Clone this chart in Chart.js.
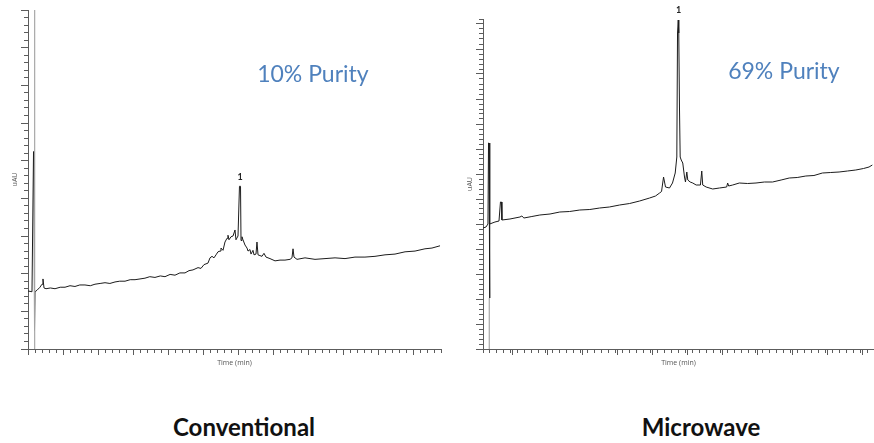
<!DOCTYPE html>
<html>
<head>
<meta charset="utf-8">
<script src="https://cdn.jsdelivr.net/npm/chart.js@4.4.1/dist/chart.umd.min.js"></script>
<style>
  html, body { margin: 0; padding: 0; background: #fff; }
  body { width: 874px; height: 443px; position: relative; overflow: hidden; font-family: Lato, "Open Sans", sans-serif; }
  canvas { position: absolute; top: 0; }
  #convChart { left: 0; }
  #microChart { left: 445px; }
  .caption { position: absolute; top: 413px; font-size: 24px; font-weight: bold; color: #111; transform: translateX(-50%); white-space: nowrap; line-height: 1.2; }
</style>
</head>
<body>
<canvas id="convChart" width="445" height="380"></canvas>
<canvas id="microChart" width="429" height="380"></canvas>
<div class="caption" style="left:244px">Conventional</div>
<div class="caption" style="left:701px">Microwave</div>
<script>
// Conventional synthesis trace (time in min, signal in uAU)
const convTime = [
  0, 0.57, 0.79, 0.86, 0.93, 1.0, 1.29, 1.71, 2.0, 2.14,
  2.29, 2.57, 3.2, 3.86, 4.6, 5.29, 6.0, 6.71, 7.4, 8.14,
  8.9, 9.57, 10.3, 11.0, 11.7, 12.43, 13.1, 13.86, 14.6, 15.29,
  16.0, 16.71, 17.4, 18.14, 18.9, 19.57, 20.3, 21.0, 21.7, 22.43,
  23.0, 23.57, 24.29, 24.71, 25.14, 25.71, 26.0, 26.29, 26.57, 26.86,
  27.14, 27.43, 27.57, 27.86, 28.14, 28.43, 28.57, 28.71, 29.0, 29.29,
  29.57, 29.71, 30.0, 30.21, 30.36, 30.43, 30.57, 30.71, 31.0, 31.29,
  31.43, 31.71, 31.86, 32.14, 32.29, 32.57, 32.71, 32.86, 33.14, 33.43,
  33.71, 34.0, 34.57, 35.29, 36.0, 36.71, 37.43, 37.71, 37.86, 38.0,
  38.43, 39.57, 41.0, 42.43, 43.86, 45.29, 46.71, 48.14, 49.57, 51.0,
  52.43, 53.86, 55.29, 56.71, 57.71, 58.86
];
const convSignal = [
  7.7, 7.6, 26.2, 26.2, 2.5, 7.6, 7.8, 8.2, 8.6, 9.3,
  8.1, 8.0, 8.1, 8.0, 8.2, 8.2, 8.4, 8.3, 8.5, 8.5,
  8.4, 8.6, 8.7, 8.8, 8.7, 8.9, 9.0, 9.0, 9.2, 9.2,
  9.3, 9.4, 9.6, 9.5, 9.7, 9.6, 9.9, 9.8, 10.1, 10.1,
  10.4, 10.5, 10.8, 10.7, 11.2, 11.4, 12.1, 12.3, 12.1, 12.5,
  12.9, 13.0, 13.4, 13.1, 14.2, 14.7, 15.1, 14.5, 14.9, 15.0,
  15.8, 14.5, 15.0, 21.6, 21.6, 14.4, 14.9, 14.5, 13.8, 13.4,
  13.0, 13.2, 12.6, 13.1, 12.5, 12.6, 14.2, 12.5, 12.4, 12.3,
  12.7, 12.2, 12.0, 11.7, 11.8, 11.8, 11.9, 12.1, 13.3, 12.2,
  11.9, 12.1, 11.9, 12.0, 12.1, 12.0, 12.2, 12.2, 12.3, 12.5,
  12.6, 12.9, 13.0, 13.3, 13.4, 13.7
];

// Microwave synthesis trace
const microTime = [
  0, 0.43, 0.71, 0.79, 0.86, 0.93, 1.0, 1.71, 2.29, 2.5,
  2.64, 2.71, 3.86, 5.29, 5.57, 5.86, 7.0, 8.14, 9.6, 11.0,
  12.4, 13.86, 15.3, 16.71, 18.1, 19.57, 21.0, 22.43, 23.86, 24.71,
  25.29, 25.57, 25.86, 26.14, 26.71, 27.14, 27.53, 27.76, 27.86, 27.96,
  28.04, 28.14, 28.24, 28.39, 28.61, 28.86, 29.0, 29.19, 29.33, 29.67,
  30.04, 30.53, 31.14, 31.33, 31.47, 31.96, 32.9, 33.86, 34.9, 35.04,
  35.19, 35.76, 36.71, 37.9, 39.1, 40.3, 41.47, 42.7, 43.86, 45.0,
  46.24, 47.4, 48.61, 49.8, 51.0, 52.2, 53.39, 54.5, 55.29, 55.76
];
const microSignal = [
  24.2, 24.4, 25.0, 41.2, 41.2, 10.2, 25.0, 25.4, 25.6, 29.4,
  29.4, 25.8, 26.0, 26.4, 26.6, 26.2, 26.5, 26.8, 27.0, 27.4,
  27.5, 27.8, 27.9, 28.2, 28.4, 28.8, 29.1, 29.6, 30.2, 30.6,
  31.2, 31.5, 34.4, 32.4, 32.2, 33.2, 35.2, 38.4, 63.2, 65.8,
  63.2, 48.4, 38.4, 37.8, 37.2, 34.4, 33.4, 35.4, 33.8, 33.4,
  33.2, 32.8, 32.8, 35.6, 32.8, 32.4, 32.0, 32.2, 32.4, 33.2,
  32.6, 32.8, 33.2, 33.1, 33.2, 33.4, 33.4, 33.8, 34.2, 34.3,
  34.6, 34.7, 35.2, 35.3, 35.4, 35.6, 35.8, 36.1, 36.4, 36.8
];

// injection line (time, top of the grey line)
const convFront = [0.95, 45];
const microFront = [0.9, 10.2];

const purityLabels = ["10% Purity", "69% Purity"];
const peakName = "1";

// draws the purity note and the peak number in data units
const textMarks = {
  id: "textMarks",
  afterDatasetsDraw(chart, args, opts) {
    const { ctx, scales: { x, y } } = chart;
    ctx.save();
    ctx.textAlign = "center";
    ctx.textBaseline = "alphabetic";
    ctx.fillStyle = "#4f81bd";
    ctx.font = "23px Lato";
    ctx.fillText(opts.purity, x.getPixelForValue(opts.purityAt[0]), y.getPixelForValue(opts.purityAt[1]));
    ctx.fillStyle = "#222";
    ctx.font = "bold 9px Lato";
    ctx.fillText(peakName, x.getPixelForValue(opts.peakAt[0]), y.getPixelForValue(opts.peakAt[1]));
    ctx.restore();
  }
};

function makeChart(id, o) {
  const ctx = document.getElementById(id).getContext("2d");
  const trace = o.time.map((t, i) => ({ x: t, y: o.signal[i] }));
  const front = [{ x: o.front[0], y: 0 }, { x: o.front[0], y: o.front[1] }];
  const axisColor = "#5c5c5c";

  return new Chart(ctx, {
    type: "line",
    data: {
      datasets: [
        { label: "front", data: front, borderColor: "#a8a8a8", borderWidth: 1.2, pointRadius: 0 },
        { label: "signal", data: trace, borderColor: "#1c1c1c", borderWidth: 1, pointRadius: 0, tension: 0 },
      ],
    },
    options: {
      responsive: false,
      animation: false,
      layout: { padding: o.padding },
      plugins: {
        legend: { display: false },
        tooltip: { enabled: false },
        textMarks: { purity: o.purity, purityAt: o.purityAt, peakAt: o.peakAt },
      },
      scales: {
        x: {
          type: "linear", min: 0, max: o.xMax, weight: 0,
          border: { color: axisColor, width: 1 },
          grid: { drawOnChartArea: false, tickLength: 4, tickColor: axisColor },
          ticks: { display: false, stepSize: 1 },
          title: { display: true, text: "Time (min)", color: "#555", font: { size: 7, family: "Open Sans" }, padding: { top: 0, bottom: 2 } },
          afterFit: s => { s.height = 20; },
        },
        xMajor: {
          type: "linear", position: "bottom", min: o.majorShift, max: o.xMax + o.majorShift, weight: -1,
          border: { display: false },
          grid: { drawOnChartArea: false, tickLength: 6, tickColor: axisColor },
          ticks: { display: false, stepSize: 5, includeBounds: false },
          afterFit: s => { s.height = 0; },
        },
        y: {
          type: "linear", min: 0, max: o.yMax, weight: 0,
          border: { color: axisColor, width: 1 },
          grid: { drawOnChartArea: false, tickLength: 4, tickColor: axisColor },
          ticks: { display: false, stepSize: 1 },
          title: { display: true, text: "uAU", color: "#555", font: { size: 7, family: "Open Sans" }, padding: { top: o.titlePad, bottom: 0 } },
          afterFit: s => { s.width = o.axisWidth; },
        },
        yMajor: {
          type: "linear", position: "left", min: 0, max: o.yMax, weight: -1,
          border: { display: false },
          grid: { drawOnChartArea: false, tickLength: 7, tickColor: axisColor },
          ticks: { display: false, stepSize: 5, includeBounds: false },
          afterFit: s => { s.width = 0; },
        },
      },
    },
    plugins: [textMarks],
  });
}

makeChart("convChart", {
  time: convTime, signal: convSignal, front: convFront,
  xMax: 59, yMax: 45, majorShift: 0,
  padding: { left: 0, top: 10, right: 4, bottom: 11 },
  axisWidth: 28, titlePad: 11,
  purity: purityLabels[0], purityAt: [40.7, 35.5], peakAt: [30.29, 22.4],
});

makeChart("microChart", {
  time: microTime, signal: microSignal, front: microFront,
  xMax: 56, yMax: 66, majorShift: 0.71,
  padding: { left: 0, top: 19, right: 0, bottom: 11 },
  axisWidth: 38, titlePad: 21,
  purity: purityLabels[1], purityAt: [43.1, 54.1], peakAt: [28.0, 67.2],
});
</script>
</body>
</html>
